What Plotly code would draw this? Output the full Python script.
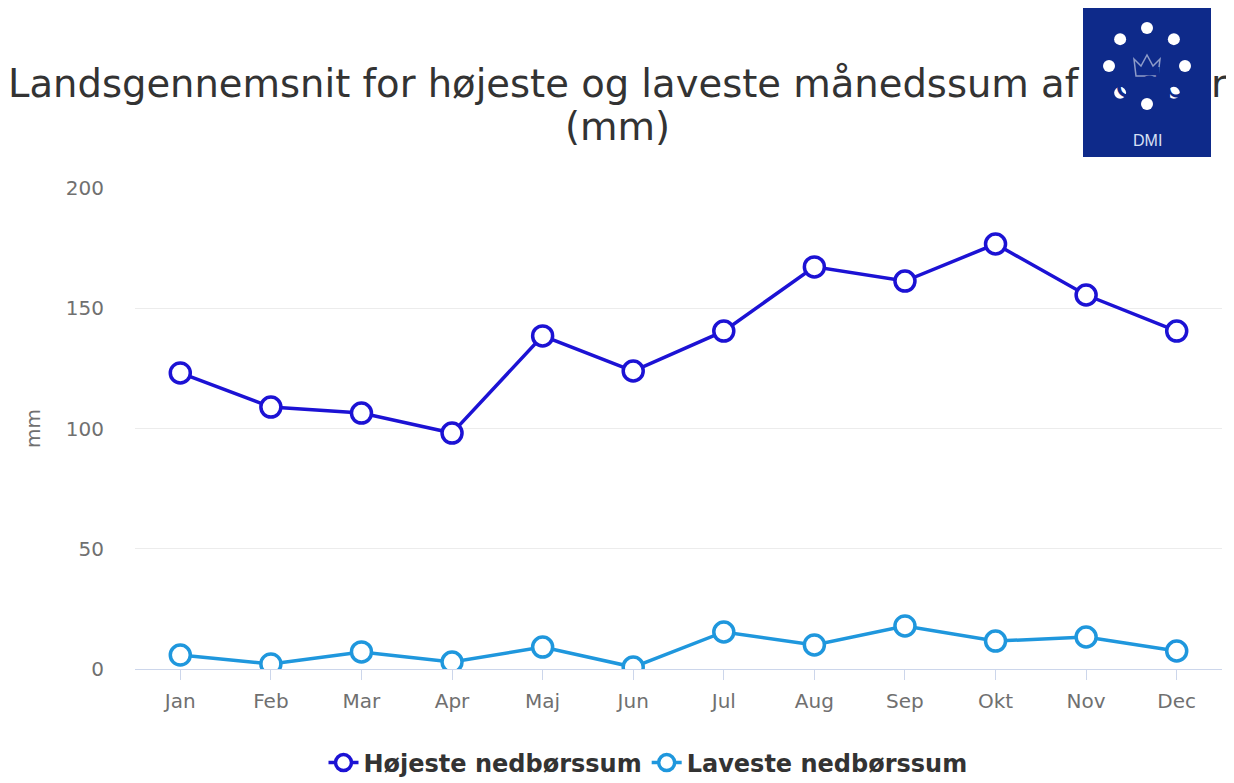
import math
import plotly.graph_objects as go

months = ["Jan", "Feb", "Mar", "Apr", "Maj", "Jun", "Jul", "Aug", "Sep", "Okt", "Nov", "Dec"]
hoejeste = [123.1, 108.9, 106.4, 98.1, 138.5, 123.9, 140.5, 167.2, 161.3, 176.7, 155.5, 140.5]
laveste = [5.8, 2.1, 7.1, 2.9, 9.1, 0.8, 15.4, 10.0, 17.9, 11.6, 13.3, 7.5]
y_ticks = [0, 50, 100, 150, 200]

c_high = "#1c12d4"
c_low = "#1f97dd"
logo_blue = "#0e2a8a"

# layout geometry (page px)
ML, MT, MR, MB = 127, 180, 20, 122
W, H = 1234, 783
PW = W - ML - MR
PH = H - MT - MB


def px2x(px):
    return (px - ML) / PW


def py2y(py):
    return (H - MB - py) / PH


fig = go.Figure()
fig.add_trace(go.Scatter(
    x=months, y=hoejeste, name="Højeste nedbørssum", mode="lines+markers",
    line=dict(color=c_high, width=3.5),
    marker=dict(size=20, color="white", line=dict(color=c_high, width=3.5)),
))
fig.add_trace(go.Scatter(
    x=months, y=laveste, name="Laveste nedbørssum", mode="lines+markers",
    line=dict(color=c_low, width=3.5),
    marker=dict(size=20, color="white", line=dict(color=c_low, width=3.5)),
))

FONT = "DejaVu Sans, Verdana, sans-serif"
fig.update_layout(
    width=W, height=H,
    paper_bgcolor="white", plot_bgcolor="white",
    margin=dict(l=ML, r=MR, t=MT, b=MB, autoexpand=False),
    font=dict(family=FONT, color="#666666"),
    showlegend=True,
    legend=dict(
        orientation="h", x=px2x(640), xanchor="center", y=py2y(755), yanchor="middle",
        font=dict(size=24, color="#333333", family=FONT, weight="bold"),
        itemwidth=30,
    ),
    xaxis=dict(
        type="category", range=[-0.5, 11.5],
        showgrid=False, showline=True, linecolor="#ccd6eb", linewidth=1,
        ticks="outside", ticklen=10, tickcolor="#ccd6eb",
        tickfont=dict(size=20, color="#707070"),
        ticklabelstandoff=4,
        zeroline=False,
    ),
    yaxis=dict(
        range=[0, 200], tickvals=y_ticks,
        showgrid=True, gridcolor="#ececec", gridwidth=1,
        zeroline=False, showline=False,
        tickfont=dict(size=20, color="#707070"),
        ticklabelstandoff=30,
        title=dict(text="mm", font=dict(size=20, color="#707070"), standoff=19),
    ),
)

# title lines (the DMI logo covers part of the first line in the original)
fig.add_annotation(
    text=("Landsgennemsnit for højeste og laveste månedssum af "
          f"<span style='color:{logo_blue}'>nedbø</span>r"),
    xref="paper", yref="paper", x=px2x(609), y=py2y(75),
    xanchor="center", yanchor="middle", showarrow=False,
    font=dict(size=38.5, color="#333333", family=FONT))
fig.add_annotation(text="(mm)",
                   xref="paper", yref="paper", x=px2x(609), y=py2y(118),
                   xanchor="center", yanchor="middle", showarrow=False,
                   font=dict(size=38.5, color="#333333", family=FONT))

# DMI logo (decorative)
fig.add_shape(type="rect", xref="paper", yref="paper",
              x0=px2x(1075), x1=px2x(1203), y0=py2y(149), y1=py2y(0),
              fillcolor=logo_blue, line=dict(width=0), layer="below")
cx, cy, r = 1139, 58, 38
for k in range(8):
    a = math.pi / 2 - k * math.pi / 4
    px = cx + r * math.cos(a)
    py = cy - r * math.sin(a)
    fig.add_shape(type="circle", xref="paper", yref="paper",
                  x0=px2x(px - 6), x1=px2x(px + 6),
                  y0=py2y(py + 6), y1=py2y(py - 6),
                  fillcolor="white", line=dict(width=0), layer="above")
crown = [(1128, 68), (1150, 68), (1152, 51), (1145, 58), (1139, 47), (1133, 58), (1126, 51)]
path = "M " + " L ".join(f"{px2x(a):.5f},{py2y(b):.5f}" for a, b in crown) + " Z"
fig.add_shape(type="path", xref="paper", yref="paper", path=path,
              fillcolor="rgba(0,0,0,0)", line=dict(color="#8e9cc9", width=1.5), layer="above")
fig.add_annotation(text="DMI", xref="paper", yref="paper",
                   x=px2x(cx), y=py2y(132), showarrow=False,
                   font=dict(size=16, color="#d8e0f5", family="Liberation Sans, Arial"),
                   xanchor="center", yanchor="middle")

fig.write_html("out.html")
